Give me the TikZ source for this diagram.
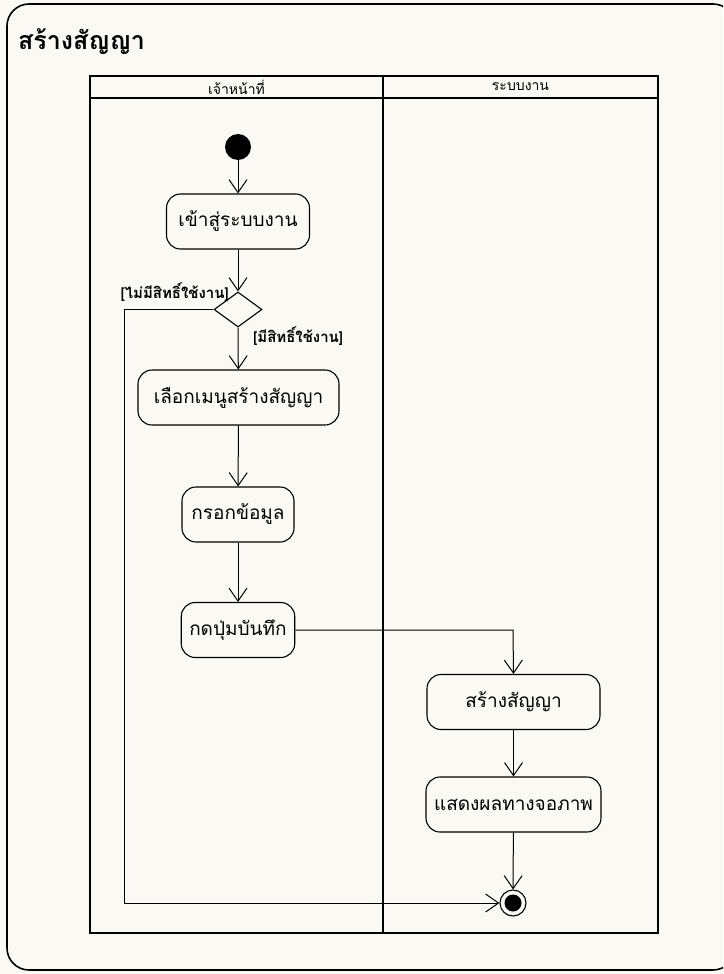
\documentclass[tikz,border=0pt]{standalone}
\usepackage{fontspec}
\setmainfont{Liberation Serif}
\newfontfamily\thai[Script=Thai]{Loma}
\usetikzlibrary{arrows.meta,shapes.geometric}
\definecolor{paper}{HTML}{FAF9F3}
\tikzset{
  act/.style={draw, line width=1.1pt, rounded corners=14pt, minimum height=55pt, inner xsep=8pt, font=\thai\fontsize{19}{19}\selectfont},
  flow/.style={line width=1pt, -{Straight Barb[length=13pt,width=18pt,line width=1pt]}},
  lane/.style={line width=2.6pt},
  guard/.style={font=\thai\bfseries\fontsize{15}{15}\selectfont, inner sep=0pt},
  hdr/.style={font=\thai\fontsize{14}{14}\selectfont, inner sep=0pt}
}
\begin{document}
\begin{tikzpicture}[x=1pt,y=-1pt]
\useasboundingbox (0,0) rectangle (723,974);
\clip (0,0) rectangle (723,974);
\fill[paper] (0,0) rectangle (723,974);
% outer frame
\draw[line width=1.6pt, rounded corners=22pt] (7,4) rectangle (735,970);
\node[anchor=west, inner sep=0pt, font=\thai\bfseries\fontsize{25}{25}\selectfont] (title) at (18,42) {สร้างสัญญา};
% swimlanes
\draw[lane] (90,76) rectangle (658,933);
\draw[lane] (90,98) -- (658,98);
\draw[lane] (383,76) -- (383,933);
\node[hdr] (h1) at (236.5,87) {เจ้าหน้าที่};
\node[hdr] (h2) at (520.5,87) {ระบบงาน};
% nodes
\node[circle, fill=black, minimum size=26pt, inner sep=0pt] (start) at (238,147) {};
\node[act, minimum width=143pt] (a1) at (238,221.5) {เข้าสู่ระบบงาน};
\node[diamond, draw, line width=1.1pt, minimum width=48pt, minimum height=35pt, inner sep=0pt, aspect=1.4] (dec) at (238,309.5) {};
\node[act, minimum width=201pt] (a2) at (238.5,397.5) {เลือกเมนูสร้างสัญญา};
\node[act, minimum width=112pt] (a3) at (238,514.5) {กรอกข้อมูล};
\node[act, minimum width=112pt] (a4) at (238,630) {กดปุ่มบันทึก};
\node[act, minimum width=173pt] (a5) at (513.5,702) {สร้างสัญญา};
\node[act, minimum width=173pt] (a6) at (513.5,804.5) {แสดงผลทางจอภาพ};
\node[circle, draw, line width=1.1pt, minimum size=26pt, inner sep=0pt] (end) at (513,903) {};
\fill (end.center) circle (8.5pt);
\coordinate (c1) at (124,309.5);
\coordinate (c2) at (124,903);
\coordinate (c3) at (513,630);
% guards
\node[guard, anchor=east] (g1) at (229,292) {[ไม่มีสิทธิ์ใช้งาน]};
\node[guard, anchor=west] (g2) at (253,336) {[มีสิทธิ์ใช้งาน]};
% connectors
\draw[flow] (start) -- (a1);
\draw[flow] (a1) -- (dec.north);
\draw[flow] (dec.south) -- (a2);
\draw[flow] (a2) -- (a3);
\draw[flow] (a3) -- (a4);
\draw[flow] (a4.east) -- (c3) -- (a5.north);
\draw[flow] (a5) -- (a6);
\draw[flow] (a6) -- (end);
\draw[flow] (dec.west) -- (c1) -- (c2) -- (end.west);
\end{tikzpicture}
\end{document}
